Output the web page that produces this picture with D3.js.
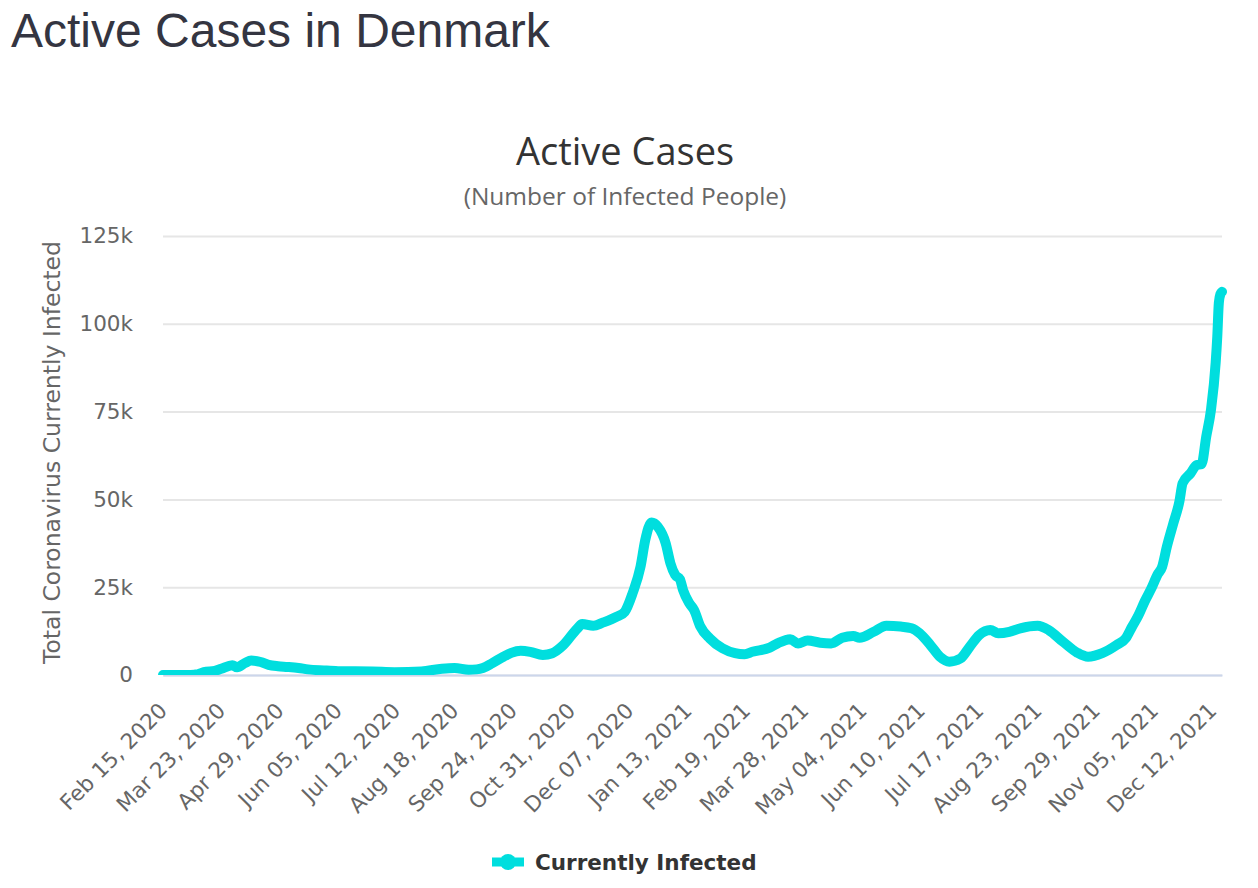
<!DOCTYPE html>
<html>
<head>
<meta charset="utf-8">
<script src="https://cdn.jsdelivr.net/npm/d3@7/dist/d3.min.js"></script>
<style>
  html, body { margin: 0; padding: 0; background: #fff; }
  svg { display: block; }
</style>
</head>
<body>
<svg id="chart" width="1258" height="888"></svg>
<script>
// ---- Data ----
const dates = [
  "2020-02-15","2020-03-01","2020-03-06","2020-03-08","2020-03-12","2020-03-19","2020-03-23","2020-03-30",
  "2020-04-02","2020-04-07","2020-04-11","2020-04-17","2020-04-22","2020-04-28","2020-05-04","2020-05-11",
  "2020-05-17","2020-05-27","2020-06-05","2020-06-27","2020-07-11","2020-07-28","2020-08-10","2020-08-18",
  "2020-08-27","2020-09-01","2020-09-05","2020-09-11","2020-09-18","2020-09-23","2020-09-29","2020-10-05",
  "2020-10-13","2020-10-19","2020-10-26","2020-11-04","2020-11-07","2020-11-14","2020-11-20","2020-11-29",
  "2020-12-04","2020-12-09","2020-12-14","2020-12-17","2020-12-21","2020-12-25","2020-12-30","2021-01-02",
  "2021-01-05","2021-01-08","2021-01-10","2021-01-14","2021-01-17","2021-01-21","2021-01-27","2021-02-04",
  "2021-02-12","2021-02-18","2021-02-23","2021-03-06","2021-03-11","2021-03-19","2021-03-24","2021-03-30",
  "2021-04-07","2021-04-14","2021-04-21","2021-04-28","2021-05-02","2021-05-11","2021-05-19","2021-05-28",
  "2021-06-04","2021-06-09","2021-06-16","2021-06-22","2021-06-28","2021-07-05","2021-07-11","2021-07-17",
  "2021-07-24","2021-07-29","2021-08-05","2021-08-12","2021-08-23","2021-08-30","2021-09-08","2021-09-17",
  "2021-09-24","2021-10-03","2021-10-12","2021-10-18","2021-10-22","2021-10-26","2021-10-30","2021-11-03",
  "2021-11-07","2021-11-10","2021-11-13","2021-11-17","2021-11-21","2021-11-23","2021-11-28","2021-12-02",
  "2021-12-05","2021-12-08","2021-12-11","2021-12-14","2021-12-15","2021-12-16","2021-12-17","2021-12-18"
];
const activeCases = [
  0,0,100,200,800,1200,1800,2800,
  2200,3400,4100,3700,2900,2500,2300,2000,
  1600,1300,1100,1000,800,1000,1800,2000,
  1500,1600,2000,3400,5200,6300,6900,6600,
  5700,6200,8500,13300,14500,14000,14900,16600,
  18000,23300,30800,38400,43400,42200,37500,31800,
  28500,27300,24200,20400,18500,13800,10400,7600,
  6200,5900,6600,7800,9000,10200,9000,9800,
  9200,9000,10600,11100,10600,12300,14000,13800,
  13300,11900,8500,5200,3800,4700,8100,11400,
  12800,11900,12300,13300,14000,12800,9500,6400,
  5200,6200,8500,10500,13800,17000,21000,24500,
  28500,30800,36500,43000,49500,54600,57400,59800,
  60000,67900,75500,89000,96300,106000,108500,109100
];
const xTickLabels = [
  "Feb 15, 2020","Mar 23, 2020","Apr 29, 2020","Jun 05, 2020","Jul 12, 2020","Aug 18, 2020",
  "Sep 24, 2020","Oct 31, 2020","Dec 07, 2020","Jan 13, 2021","Feb 19, 2021","Mar 28, 2021",
  "May 04, 2021","Jun 10, 2021","Jul 17, 2021","Aug 23, 2021","Sep 29, 2021","Nov 05, 2021","Dec 12, 2021"
];
const yTicks = [0, 25000, 50000, 75000, 100000, 125000];
const seriesName = "Currently Infected";

// ---- Setup ----
const svg = d3.select("#chart");
const plot = { left: 163, right: 1222, top: 236, bottom: 675 };
const lineColor = "#00dede";

const parseISO = d3.timeParse("%Y-%m-%d");
const parseLbl = d3.timeParse("%b %d, %Y");
const data = dates.map((d, i) => ({ date: parseISO(d), value: activeCases[i] }));

const x = d3.scaleTime()
  .domain([parseISO("2020-02-15"), parseISO("2021-12-18")])
  .range([plot.left, plot.right]);
const y = d3.scaleLinear().domain([0, 125000]).range([plot.bottom, plot.top]);

// Page title
svg.append("text")
  .attr("x", 11).attr("y", 47)
  .attr("font-family", "Liberation Sans, Arial, sans-serif")
  .attr("font-size", 48)
  .attr("fill", "#343541")
  .text("Active Cases in Denmark");

// Chart title + subtitle
svg.append("text")
  .attr("x", 625).attr("y", 165)
  .attr("text-anchor", "middle")
  .attr("font-family", "Open Sans, sans-serif")
  .attr("font-size", 38)
  .attr("fill", "#333333")
  .text("Active Cases");
svg.append("text")
  .attr("x", 625).attr("y", 205)
  .attr("text-anchor", "middle")
  .attr("font-family", "Open Sans, sans-serif")
  .attr("font-size", 24.5)
  .attr("fill", "#666666")
  .text("(Number of Infected People)");

// Gridlines + y axis labels
const yAxis = d3.axisLeft(y).tickValues(yTicks)
  .tickSize(-(plot.right - plot.left))
  .tickPadding(30)
  .tickFormat(d => d === 0 ? "0" : (d / 1000) + "k");
const gy = svg.append("g").attr("transform", `translate(${plot.left},0)`).call(yAxis);
gy.select(".domain").remove();
gy.selectAll(".tick line").attr("stroke", "#e6e6e6").attr("stroke-width", 2);
gy.selectAll(".tick text")
  .attr("font-family", "DejaVu Sans, sans-serif")
  .attr("font-size", 21.5)
  .attr("fill", "#666666");

// y axis title
svg.append("text")
  .attr("transform", `translate(60,${(plot.top + plot.bottom) / 2 - 3}) rotate(-90)`)
  .attr("text-anchor", "middle")
  .attr("font-family", "DejaVu Sans, sans-serif")
  .attr("font-size", 23.5)
  .attr("fill", "#666666")
  .text("Total Coronavirus Currently Infected");

// x axis
const xAxis = d3.axisBottom(x)
  .tickValues(xTickLabels.map(parseLbl))
  .tickSize(0)
  .tickFormat(d => d3.timeFormat("%b %d, %Y")(d));
const gx = svg.append("g").attr("transform", `translate(0,${plot.bottom})`).call(xAxis);
gx.select(".domain").attr("stroke", "#ccd6eb").attr("stroke-width", 2);
gx.selectAll(".tick text")
  .attr("font-family", "DejaVu Sans, sans-serif")
  .attr("font-size", 21.5)
  .attr("fill", "#666666")
  .attr("text-anchor", "end")
  .attr("dy", null)
  .attr("y", 0)
  .attr("transform", "translate(5,37) rotate(-45)");

// clip
svg.append("clipPath").attr("id", "clip")
  .append("rect")
  .attr("x", plot.left - 6).attr("y", plot.top - 60)
  .attr("width", plot.right - plot.left + 12)
  .attr("height", plot.bottom - plot.top + 60);

const line = d3.line()
  .x(d => x(d.date))
  .y(d => y(d.value))
  .curve(d3.curveMonotoneX);

svg.append("path")
  .datum(data)
  .attr("clip-path", "url(#clip)")
  .attr("d", line)
  .attr("fill", "none")
  .attr("stroke", lineColor)
  .attr("stroke-width", 10)
  .attr("stroke-linejoin", "round")
  .attr("stroke-linecap", "round");

// Legend
const lg = svg.append("g").attr("transform", "translate(492,862)");
lg.append("line").attr("x1", 0).attr("x2", 32).attr("y1", 0).attr("y2", 0)
  .attr("stroke", lineColor).attr("stroke-width", 9);
lg.append("circle").attr("cx", 16).attr("cy", 0).attr("r", 8).attr("fill", lineColor);
lg.append("text")
  .attr("x", 43).attr("y", 8)
  .attr("font-family", "DejaVu Sans, sans-serif")
  .attr("font-weight", "bold")
  .attr("font-size", 21.5)
  .attr("fill", "#333333")
  .text(seriesName);
</script>
</body>
</html>
